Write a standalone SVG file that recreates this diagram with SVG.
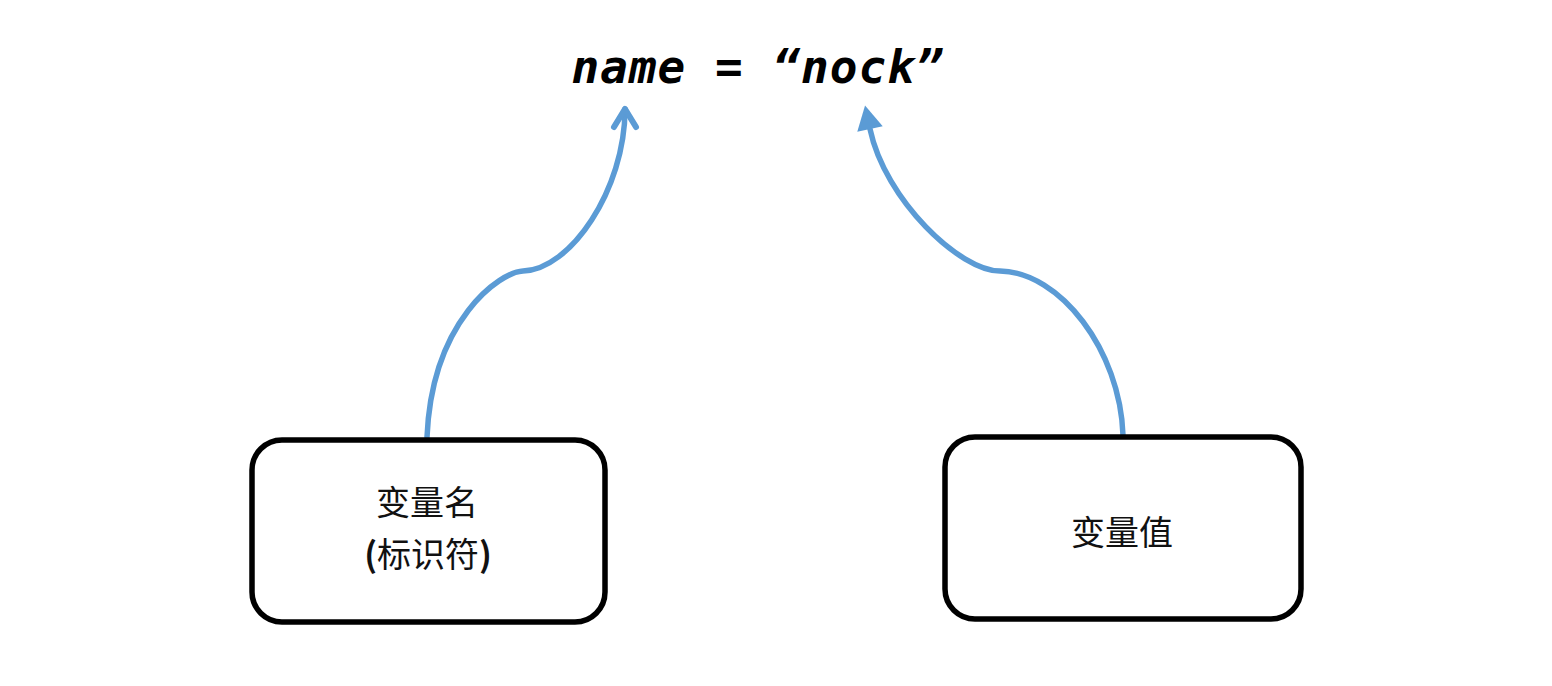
<svg xmlns="http://www.w3.org/2000/svg" width="1552" height="686" viewBox="0 0 1552 686">
<style>
.box{fill:#ffffff;stroke:#000000;stroke-width:5.5}
.cn{font-family:"Noto Sans CJK SC","Noto Sans",sans-serif;font-size:34px;fill:#111111;text-anchor:middle}
.conn{fill:none;stroke:#5b9bd5;stroke-width:5.5;stroke-linecap:round}
.code{font-family:"DejaVu Sans Mono","Liberation Mono",monospace;font-weight:bold;font-style:italic;font-size:46px;fill:#000000;letter-spacing:1px}
</style>
<defs>
<marker id="open" markerUnits="userSpaceOnUse" viewBox="-22 -14 26 28" refX="0" refY="0" markerWidth="26" markerHeight="28" orient="auto" overflow="visible">
<path d="M -18 -11 L 0 0 L -18 11" fill="none" stroke="#5b9bd5" stroke-width="6" stroke-linecap="round" stroke-linejoin="round"/>
</marker>
<marker id="tri" markerUnits="userSpaceOnUse" viewBox="0 -14 26 28" refX="0" refY="0" markerWidth="26" markerHeight="28" orient="auto" overflow="visible">
<path d="M 0 -13 L 24 0 L 0 13 z" fill="#5b9bd5"/>
</marker>
</defs>
<rect width="1552" height="686" fill="#ffffff"/>
<g id="title">
<text class="code" x="758" y="83" text-anchor="middle">name = “nock”</text>
</g>
<g id="connectors">
<path class="conn" d="M427 437 C 432 320, 500 272, 523 271 C 570 270, 625 190, 625 109" marker-end="url(#open)"/>
<path class="conn" d="M1123 435 C 1120 350, 1060 272, 1000 271 C 960 271, 885 200, 870 129" marker-end="url(#tri)"/>
</g>
<g id="node-name">
<rect class="box" x="252" y="440" width="353" height="182" rx="30" ry="30"/>
<text class="cn" x="427" y="515">变量名</text>
<text class="cn" x="428" y="567"><tspan font-weight="bold">(</tspan>标识符<tspan font-weight="bold">)</tspan></text>
</g>
<g id="node-value">
<rect class="box" x="945" y="437" width="356" height="182" rx="30" ry="30"/>
<text class="cn" x="1122" y="545">变量值</text>
</g>
</svg>
